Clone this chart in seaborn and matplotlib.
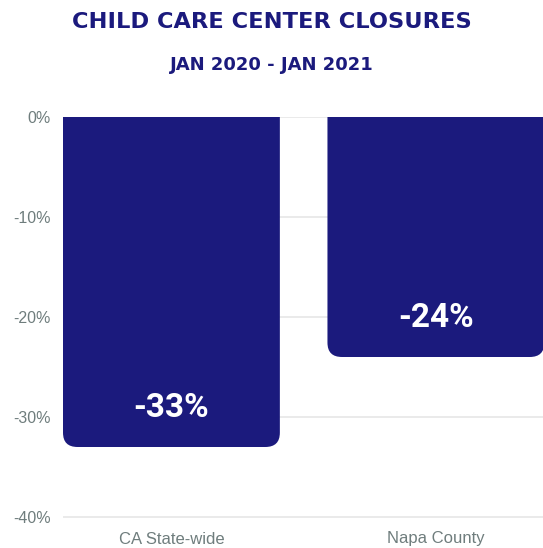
import matplotlib
matplotlib.use("Agg")
import matplotlib.pyplot as plt
import seaborn as sns
import pandas as pd
from matplotlib.patches import FancyBboxPatch

categories = ["CA State-wide", "Napa County"]
values = [-33, -24]
value_labels = ["-33%", "-24%"]
yticks = [0, -10, -20, -30, -40]
ytick_labels = ["0%", "-10%", "-20%", "-30%", "-40%"]

navy = "#1b1a7d"
gray_txt = "#6f7d7d"

sns.set_theme(style="white")
plt.rcParams["font.family"] = ["Liberation Sans", "DejaVu Sans"]

df = pd.DataFrame({"cat": categories, "val": values})

fig = plt.figure(figsize=(5.43, 5.48), dpi=100)
ax = fig.add_axes([63 / 543, 1 - 519 / 548, (543 - 63) / 543, 402 / 548])

sns.barplot(data=df, x="cat", y="val", color=navy, saturation=1, width=0.82, ax=ax, zorder=3)

# replace bars with rounded-bottom versions
for p in list(ax.patches):
    x0, y0 = p.get_x(), p.get_y()
    w, h = p.get_width(), p.get_height()
    bottom = min(y0, y0 + h)
    top = max(y0, y0 + h)
    r = 0.055
    aspect = 26.0
    fb = FancyBboxPatch((x0 + r, bottom + r * aspect), w - 2 * r, (top + 5) - bottom - 2 * r * aspect,
                        boxstyle=f"round,pad={r},rounding_size={r}", mutation_aspect=aspect,
                        facecolor=navy, edgecolor="none", zorder=3, clip_on=True)
    p.set_visible(False)
    ax.add_patch(fb)

ax.set_ylim(-40.2, 0)
ax.set_xlim(-0.41, 1.405)
ax.set_yticks(yticks)
ax.set_yticklabels(ytick_labels)
ax.set_xlabel("")
ax.set_ylabel("")
for s in ax.spines.values():
    s.set_visible(False)
ax.yaxis.grid(True, color="#e6e6e6", linewidth=1.2, zorder=0)
ax.xaxis.grid(False)
ax.tick_params(axis="y", colors=gray_txt, labelsize=11.5, length=0, pad=9)
ax.tick_params(axis="x", colors=gray_txt, labelsize=12, length=0, pad=9)

for i, (v, lab) in enumerate(zip(values, value_labels)):
    ax.text(i, v + 3.9, lab, color="white", ha="center", va="center",
            fontsize=24, fontweight="bold", zorder=5, family=["Roboto", "DejaVu Sans"])

fig.text(0.5, 1 - 22 / 548, "CHILD CARE CENTER CLOSURES", ha="center", va="center",
         color=navy, fontsize=16.2, fontweight="bold", family=["DejaVu Sans"])
fig.text(0.5, 1 - 65 / 548, "JAN 2020 - JAN 2021", ha="center", va="center",
         color=navy, fontsize=13, fontweight="bold", family=["DejaVu Sans"])

fig.savefig("out.png", dpi=100)
